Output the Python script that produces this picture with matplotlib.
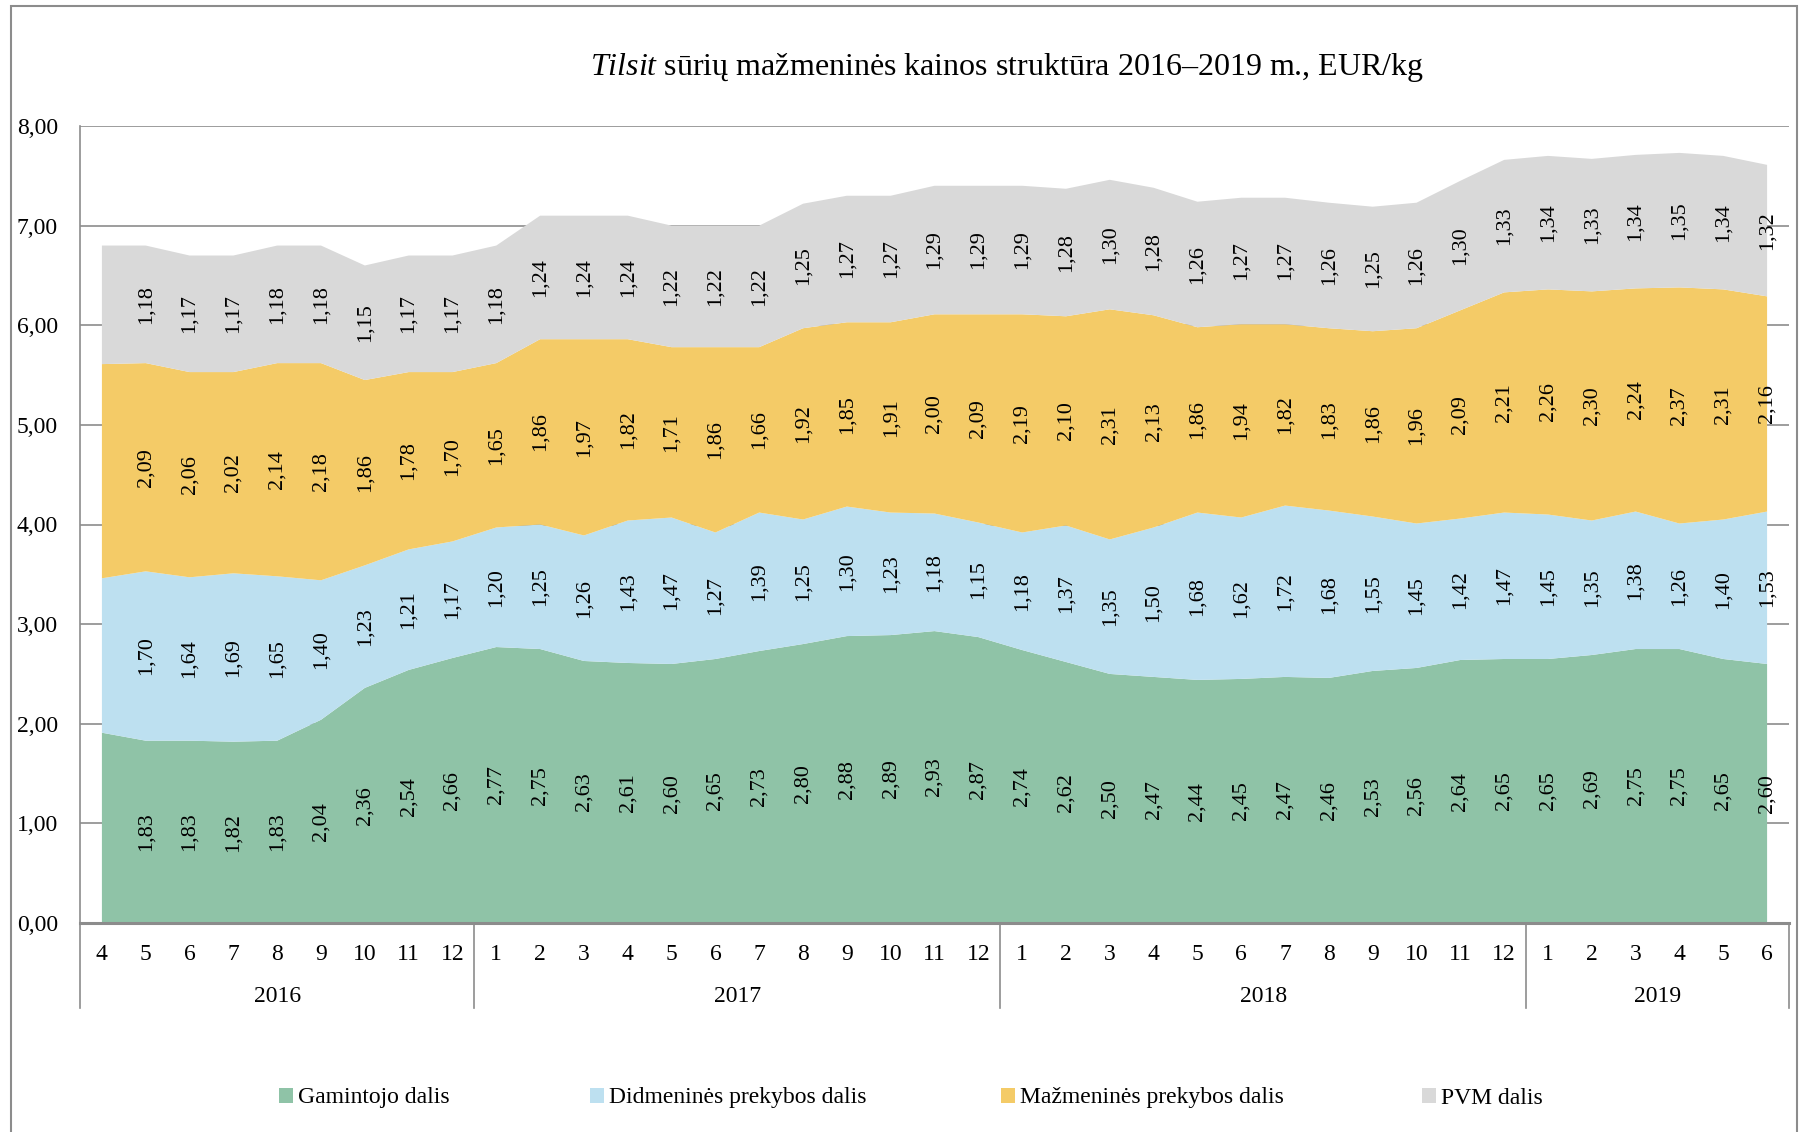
import matplotlib
matplotlib.use('Agg')
import matplotlib.pyplot as plt
from matplotlib.patches import Rectangle
from matplotlib.ticker import FuncFormatter
import matplotlib.transforms as mtransforms
import numpy as np

plt.rcParams['font.family'] = ['Liberation Serif', 'DejaVu Serif']
plt.rcParams['mathtext.fontset'] = 'custom'
plt.rcParams['mathtext.it'] = 'Liberation Serif:italic'
plt.rcParams['mathtext.rm'] = 'Liberation Serif'

# duomenys (EUR/kg)
menesiai = ['4', '5', '6', '7', '8', '9', '10', '11', '12',
            '1', '2', '3', '4', '5', '6', '7', '8', '9', '10', '11', '12',
            '1', '2', '3', '4', '5', '6', '7', '8', '9', '10', '11', '12',
            '1', '2', '3', '4', '5', '6']
metai = ['2016', '2017', '2018', '2019']
men_sk = [9, 12, 12, 6]

gamintojo = [1.91, 1.83, 1.83, 1.82, 1.83, 2.04, 2.36, 2.54, 2.66,
             2.77, 2.75, 2.63, 2.61, 2.60, 2.65, 2.73, 2.80, 2.88, 2.89, 2.93, 2.87,
             2.74, 2.62, 2.50, 2.47, 2.44, 2.45, 2.47, 2.46, 2.53, 2.56, 2.64, 2.65,
             2.65, 2.69, 2.75, 2.75, 2.65, 2.60]
didmenines = [1.55, 1.70, 1.64, 1.69, 1.65, 1.40, 1.23, 1.21, 1.17,
              1.20, 1.25, 1.26, 1.43, 1.47, 1.27, 1.39, 1.25, 1.30, 1.23, 1.18, 1.15,
              1.18, 1.37, 1.35, 1.50, 1.68, 1.62, 1.72, 1.68, 1.55, 1.45, 1.42, 1.47,
              1.45, 1.35, 1.38, 1.26, 1.40, 1.53]
mazmenines = [2.15, 2.09, 2.06, 2.02, 2.14, 2.18, 1.86, 1.78, 1.70,
              1.65, 1.86, 1.97, 1.82, 1.71, 1.86, 1.66, 1.92, 1.85, 1.91, 2.00, 2.09,
              2.19, 2.10, 2.31, 2.13, 1.86, 1.94, 1.82, 1.83, 1.86, 1.96, 2.09, 2.21,
              2.26, 2.30, 2.24, 2.37, 2.31, 2.16]
pvm = [1.19, 1.18, 1.17, 1.17, 1.18, 1.18, 1.15, 1.17, 1.17,
       1.18, 1.24, 1.24, 1.24, 1.22, 1.22, 1.22, 1.25, 1.27, 1.27, 1.29, 1.29,
       1.29, 1.28, 1.30, 1.28, 1.26, 1.27, 1.27, 1.26, 1.25, 1.26, 1.30, 1.33,
       1.34, 1.33, 1.34, 1.35, 1.34, 1.32]

pavadinimai = ['Gamintojo dalis', 'Didmeninės prekybos dalis',
               'Mažmeninės prekybos dalis', 'PVM dalis']
spalvos = ['#8FC3A7', '#BDE0F0', '#F4CB67', '#D9D9D9']

W, H = 1801, 1132
fig = plt.figure(figsize=(W / 100, H / 100), dpi=100)
ax = fig.add_axes([80 / W, 1 - 923 / H, (1789 - 80) / W, (923 - 126) / H])

x = np.arange(len(menesiai))
serijos = [gamintojo, didmenines, mazmenines, pvm]
polys = ax.stackplot(x, *serijos, colors=spalvos, labels=pavadinimai, zorder=2)

# reiksmes juostu viduryje (pirmam taskui etikeciu nera)
apacia = np.zeros(len(x))
for s in serijos:
    s = np.array(s)
    for i in range(1, len(x)):
        ax.text(x[i], apacia[i] + s[i] / 2, f'{s[i]:.2f}'.replace('.', ','),
                rotation=90, ha='center', va='center', fontsize=16, zorder=3)
    apacia = apacia + s

ax.set_xlim(-0.5, len(x) - 0.5)
ax.set_ylim(0, 8)
ax.set_yticks(np.arange(0, 9, 1))
ax.yaxis.set_major_formatter(FuncFormatter(lambda v, p: f'{v:.2f}'.replace('.', ',')))
ax.grid(axis='y', color='#8C8C8C', linewidth=1.2, zorder=0)
ax.set_axisbelow(True)
ax.set_xticks(x)
ax.set_xticklabels(menesiai)
ax.tick_params(axis='both', length=0, labelsize=17, colors='black')
ax.tick_params(axis='x', pad=15)
ax.tick_params(axis='y', pad=16)

for k in ['top', 'right']:
    ax.spines[k].set_visible(False)
ax.spines['left'].set_color('#8C8C8C')
ax.spines['left'].set_linewidth(1.2)
ax.spines['bottom'].set_color('#8C8C8C')
ax.spines['bottom'].set_linewidth(2.2)
ax.spines['bottom'].set_zorder(4)

# metu skirtukai ir pavadinimai
tr = mtransforms.blended_transform_factory(ax.transData, ax.transAxes)
ribos = np.concatenate([[0], np.cumsum(men_sk)]) - 0.5
for r in ribos:
    ax.plot([r, r], [0, -85 / 797], transform=tr, color='#8C8C8C',
            linewidth=1.2, clip_on=False)
for i, m in enumerate(metai):
    ax.text((ribos[i] + ribos[i + 1]) / 2, -73 / 797, m, transform=tr,
            ha='center', va='center', fontsize=17)

fig.text(1007 / W, 1 - 68 / H,
         r'$\it{Tilsit}$ sūrių mažmeninės kainos struktūra 2016–2019 m., EUR/kg',
         ha='center', va='center', fontsize=23)

# legenda
leg_x = [279, 590, 1001, 1422]
for p, lab, lx in zip(polys, pavadinimai, leg_x):
    fig.legend([p], [lab], loc='center left', bbox_to_anchor=(lx / W, 1 - 1098 / H),
               frameon=False, fontsize=17, handlelength=0.6, handleheight=0.6,
               handletextpad=0.2, borderpad=0, borderaxespad=0)

fig.add_artist(Rectangle((11 / W, -0.01), (1797 - 11) / W, 1.01 - 6 / H,
                         transform=fig.transFigure, fill=False,
                         edgecolor='#8C8C8C', linewidth=1.5))

fig.savefig('out.png', dpi=100)
